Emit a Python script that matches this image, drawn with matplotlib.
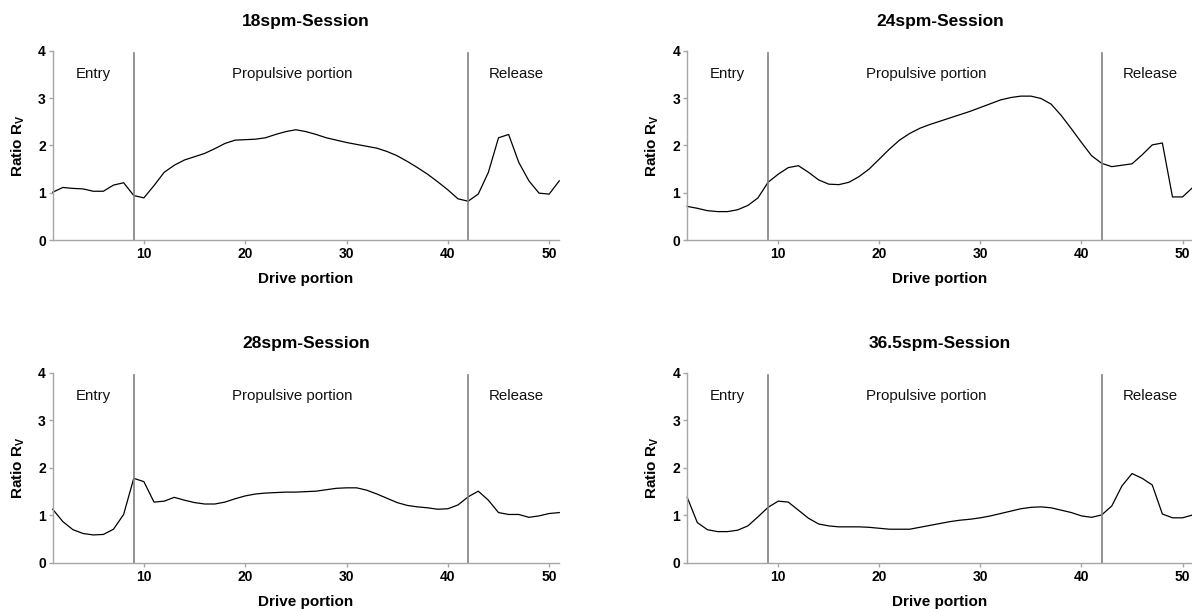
import matplotlib
matplotlib.use("Agg")
import matplotlib.pyplot as plt
import numpy as np

plt.rcParams['font.family'] = ['Liberation Sans', 'DejaVu Sans']
plt.rcParams['mathtext.fontset'] = 'custom'
plt.rcParams['mathtext.rm'] = 'Liberation Sans'
plt.rcParams['mathtext.bf'] = 'Liberation Sans:bold'

drive = list(range(1, 52))

titles = ["18spm-Session", "24spm-Session", "28spm-Session", "36.5spm-Session"]

ratio_18 = [1.01, 1.11, 1.09, 1.08, 1.03, 1.03, 1.16, 1.21, 0.94, 0.89,
            1.15, 1.43, 1.58, 1.69, 1.76, 1.83, 1.93, 2.04, 2.11, 2.12,
            2.13, 2.16, 2.23, 2.29, 2.33, 2.29, 2.23, 2.16, 2.11, 2.06,
            2.02, 1.98, 1.94, 1.87, 1.78, 1.66, 1.53, 1.39, 1.23, 1.06,
            0.87, 0.82, 0.97, 1.43, 2.16, 2.23, 1.64, 1.25, 0.99, 0.97,
            1.25]

ratio_24 = [0.71, 0.67, 0.62, 0.60, 0.60, 0.64, 0.73, 0.89, 1.22, 1.39,
            1.53, 1.57, 1.43, 1.27, 1.18, 1.17, 1.22, 1.34, 1.50, 1.71,
            1.92, 2.11, 2.25, 2.36, 2.44, 2.51, 2.58, 2.65, 2.72, 2.80,
            2.88, 2.96, 3.01, 3.04, 3.04, 2.99, 2.87, 2.63, 2.35, 2.06,
            1.78, 1.62, 1.55, 1.58, 1.61, 1.80, 2.01, 2.05, 0.91, 0.91,
            1.11]

ratio_28 = [1.13, 0.87, 0.70, 0.62, 0.59, 0.60, 0.71, 1.02, 1.78, 1.71,
            1.28, 1.30, 1.38, 1.32, 1.27, 1.24, 1.24, 1.28, 1.35, 1.41,
            1.45, 1.47, 1.48, 1.49, 1.49, 1.50, 1.51, 1.54, 1.57, 1.58,
            1.58, 1.53, 1.45, 1.36, 1.27, 1.21, 1.18, 1.16, 1.13, 1.14,
            1.22, 1.39, 1.51, 1.32, 1.06, 1.02, 1.02, 0.96, 0.99, 1.04,
            1.06]

ratio_365 = [1.38, 0.85, 0.70, 0.66, 0.66, 0.69, 0.78, 0.97, 1.17, 1.30,
             1.28, 1.11, 0.94, 0.82, 0.78, 0.76, 0.76, 0.76, 0.75, 0.73,
             0.71, 0.71, 0.71, 0.75, 0.79, 0.83, 0.87, 0.90, 0.92, 0.95,
             0.99, 1.04, 1.09, 1.14, 1.17, 1.18, 1.16, 1.11, 1.06, 0.99,
             0.96, 1.01, 1.20, 1.62, 1.88, 1.78, 1.64, 1.03, 0.95, 0.95,
             1.01]

series = [ratio_18, ratio_24, ratio_28, ratio_365]

phase_bounds = [9, 42]
phase_labels = ["Entry", "Propulsive portion", "Release"]
phase_label_x = [5, 24.6, 46.8]

x_ticks = [10, 20, 30, 40, 50]
y_ticks = [0, 1, 2, 3, 4]

fig = plt.figure(figsize=(11.92, 6.09), dpi=100)

W, H = 1192, 609
positions = [
    (52.7, 240, 559.3, 50.7),
    (687.2, 240, 1192.7, 50.7),
    (52.7, 563, 559.3, 372.7),
    (687.2, 563, 1192.7, 372.7),
]

spine_col = '#a6a6a6'
vline_col = '#808080'

for i, (x0, yb, x1, yt) in enumerate(positions):
    ax = fig.add_axes([x0 / W, 1 - yb / H, (x1 - x0) / W, (yb - yt) / H])
    ax.plot(drive, series[i], color='black', lw=0.9, clip_on=False)
    for b in phase_bounds:
        ax.plot([b, b], [0, 3.96], color=vline_col, lw=1.2, clip_on=False)
    for lx, lab in zip(phase_label_x, phase_labels):
        ax.text(lx, 3.5, lab, ha='center', va='center', fontsize=10.8,
                color='#111111')
    ax.set_xlim(1, 51)
    ax.set_ylim(0, 4)
    ax.set_xticks(x_ticks)
    ax.set_yticks(y_ticks)
    for s in ['top', 'right']:
        ax.spines[s].set_visible(False)
    for s in ['left', 'bottom']:
        ax.spines[s].set_color(spine_col)
        ax.spines[s].set_linewidth(1.0)
    ax.tick_params(axis='both', colors=spine_col, length=3, width=1.0,
                   labelcolor='black', labelsize=10, pad=2)
    for lbl in ax.get_xticklabels() + ax.get_yticklabels():
        lbl.set_fontweight('bold')
    ax.set_xlabel("Drive portion", fontsize=11, fontweight='bold', labelpad=8)
    ax.set_ylabel(r"Ratio R$_\mathbf{V}$", fontsize=11, fontweight='bold', labelpad=8)
    ax.set_title(titles[i], fontsize=12.5, fontweight='bold', pad=18)

fig.savefig("out.png", dpi=100)
